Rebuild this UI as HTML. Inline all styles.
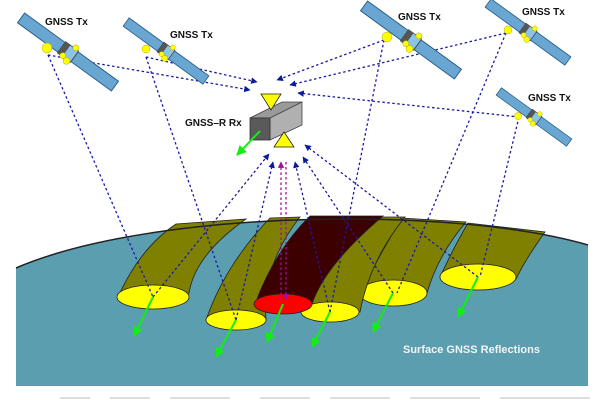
<!DOCTYPE html>
<html><head><meta charset="utf-8"><style>
html,body{margin:0;padding:0;background:#fff;}
svg{display:block;}
text{font-family:"Liberation Sans",sans-serif;font-weight:bold;}
</style></head><body>
<svg width="604" height="400" viewBox="0 0 604 400" xmlns="http://www.w3.org/2000/svg">
<defs>
<marker id="ah" viewBox="0 0 10 10" refX="9" refY="5" markerWidth="5" markerHeight="5" orient="auto"><path d="M0,0 L10,5 L0,10 z" fill="#0a1a9a"/></marker>
<marker id="am" viewBox="0 0 10 10" refX="9" refY="5" markerWidth="5" markerHeight="5" orient="auto"><path d="M0,0 L10,5 L0,10 z" fill="#a0109a"/></marker>
<marker id="ag" viewBox="0 0 10 10" refX="9" refY="5" markerWidth="5" markerHeight="5" orient="auto"><path d="M0,0 L10,5 L0,10 z" fill="#11ee11"/></marker>
<g id="sat">
<rect x="-58" y="-6" width="50" height="12" fill="#6aa6d2" stroke="#2a5f8a" stroke-width="1"/>
<rect x="8" y="-6" width="50" height="12" fill="#6aa6d2" stroke="#2a5f8a" stroke-width="1"/>
<rect x="-8" y="-7" width="16" height="14" fill="#8cc4e8" stroke="#444" stroke-width="0.8"/>
<rect x="-8" y="-7" width="6" height="14" fill="#555"/>
<circle cx="4" cy="-8" r="3" fill="#ff0" stroke="#aa0" stroke-width="0.5"/>
<circle cx="4" cy="8" r="3.5" fill="#ff0" stroke="#aa0" stroke-width="0.5"/>
<circle cx="-2" cy="6" r="3" fill="#ff0" stroke="#aa0" stroke-width="0.5"/>
</g>
</defs>

<!-- earth -->
<path d="M16,268 C150,210 450,205 588,245 L588,386 L16,386 Z" fill="#5a9eb0"/>

<g stroke="#222" stroke-width="0.8">
<!-- E6 -->
<path d="M440,277 Q455,245 468,223 L545,232 Q525,260 516,279 Z" fill="#7f7f00"/>
<ellipse cx="478" cy="277" rx="38" ry="13" fill="#ff0"/>
<!-- E5 -->
<path d="M360,293 Q385,245 402,218 L466,222 Q438,255 427,293 Z" fill="#7f7f00"/>
<ellipse cx="393" cy="293" rx="34" ry="13" fill="#ff0"/>
<!-- E4 -->
<path d="M301,312 Q320,255 360,217 L405,217 Q370,260 360,312 Z" fill="#7f7f00"/>
<ellipse cx="330" cy="312" rx="29" ry="10" fill="#ff0"/>
<!-- E2 -->
<path d="M206,320 Q225,265 270,218 L300,217 Q262,265 266,320 Z" fill="#7f7f00"/>
<ellipse cx="236" cy="320" rx="30" ry="10" fill="#ff0"/>
<!-- red -->
<path d="M255,304 Q275,250 310,216 L383,216 Q325,265 312,304 Z" fill="#3d0000"/>
<ellipse cx="283" cy="304" rx="29" ry="10" fill="#f00"/>
<!-- E1 -->
<path d="M118,297 Q140,248 176,224 L246,219 Q195,255 189,293 Z" fill="#7f7f00"/>
<ellipse cx="153" cy="297" rx="36" ry="12" fill="#ff0"/>
</g>
<path d="M16,268 C150,210 450,205 588,245" fill="none" stroke="#222" stroke-width="1.5"/>

<!-- dashed lines satellites to surface -->
<g stroke="#1a1aa0" stroke-width="1.3" stroke-dasharray="2.5,2.5" fill="none">
<line x1="48" y1="55" x2="153" y2="297"/>
<line x1="146" y1="57" x2="236" y2="320"/>
<line x1="384" y1="40" x2="330" y2="312"/>
<line x1="506" y1="33" x2="397" y2="293"/>
<line x1="519" y1="117" x2="480" y2="277"/>
</g>
<g stroke="#1a1aa0" stroke-width="1.3" stroke-dasharray="2.5,2.5" fill="none" marker-end="url(#ah)">
<line x1="48" y1="55" x2="250" y2="90"/>
<line x1="146" y1="57" x2="257" y2="82"/>
<line x1="384" y1="40" x2="277" y2="80"/>
<line x1="506" y1="33" x2="290" y2="85"/>
<line x1="519" y1="117" x2="298" y2="93"/>
<line x1="153" y1="297" x2="269" y2="154"/>
<line x1="236" y1="320" x2="273" y2="162"/>
<line x1="330" y1="312" x2="295" y2="162"/>
<line x1="393" y1="293" x2="303" y2="157"/>
<line x1="478" y1="277" x2="305" y2="145"/>
</g>
<g stroke="#a0109a" stroke-width="1.3" stroke-dasharray="2.5,2.5" fill="none">
<line x1="281" y1="300" x2="281" y2="162" marker-end="url(#am)"/>
<line x1="286" y1="162" x2="286" y2="300" marker-end="url(#am)"/>
</g>

<!-- green arrows -->
<g stroke="#11ee11" stroke-width="2" marker-end="url(#ag)">
<line x1="153" y1="297" x2="134" y2="336"/>
<line x1="236" y1="320" x2="216" y2="357"/>
<line x1="283" y1="304" x2="267" y2="342"/>
<line x1="330" y1="312" x2="312" y2="347"/>
<line x1="393" y1="293" x2="373" y2="332"/>
<line x1="478" y1="277" x2="458" y2="317"/>
</g>

<!-- receiver -->
<polygon points="250,118 270,118 302,102 282,102" fill="#9a9a9a" stroke="#444" stroke-width="0.8"/>
<polygon points="270,118 302,102 302,125 270,140" fill="#b0b0b0" stroke="#444" stroke-width="0.8"/>
<rect x="250" y="118" width="20" height="22" fill="#5a5a5a" stroke="#333" stroke-width="0.8"/>
<line x1="260" y1="131" x2="237" y2="155" stroke="#11ee11" stroke-width="2" marker-end="url(#ag)"/>
<polygon points="261,94 281,94 271,110" fill="#ff0" stroke="#222" stroke-width="0.8"/>
<polygon points="274,147 294,147 284,132" fill="#ff0" stroke="#222" stroke-width="0.8"/>
<text x="185" y="126" font-size="10" fill="#111">GNSS–R Rx</text>

<!-- satellites -->
<use href="#sat" transform="translate(68,52) rotate(36)"/>
<circle cx="47" cy="48" r="5" fill="#ff0" stroke="#aa0" stroke-width="0.5"/>
<use href="#sat" transform="translate(166,51) rotate(36) scale(0.85)"/>
<circle cx="146" cy="49" r="4" fill="#ff0" stroke="#aa0" stroke-width="0.5"/>
<use href="#sat" transform="translate(411,40) rotate(36)"/>
<circle cx="387" cy="37" r="5" fill="#ff0" stroke="#aa0" stroke-width="0.5"/>
<use href="#sat" transform="translate(528,32) rotate(36) scale(0.85)"/>
<circle cx="508" cy="30" r="4" fill="#ff0" stroke="#aa0" stroke-width="0.5"/>
<use href="#sat" transform="translate(534,117) rotate(36) scale(0.75)"/>
<circle cx="518" cy="116" r="3.5" fill="#ff0" stroke="#aa0" stroke-width="0.5"/>

<g font-size="10" fill="#111">
<text x="45" y="25">GNSS Tx</text>
<text x="170" y="38">GNSS Tx</text>
<text x="398" y="20">GNSS Tx</text>
<text x="522" y="15">GNSS Tx</text>
<text x="528" y="101">GNSS Tx</text>
</g>
<text x="403" y="353" font-size="11" fill="#f4f4f4">Surface GNSS Reflections</text>

<!-- faint bottom text fragments -->
<g fill="#ddd">
<rect x="60" y="397" width="30" height="2"/><rect x="110" y="397" width="40" height="2"/><rect x="170" y="397" width="60" height="2"/><rect x="260" y="397" width="50" height="2"/><rect x="330" y="397" width="60" height="2"/><rect x="410" y="397" width="70" height="2"/><rect x="500" y="397" width="90" height="2"/>
</g>
</svg>
</body></html>
